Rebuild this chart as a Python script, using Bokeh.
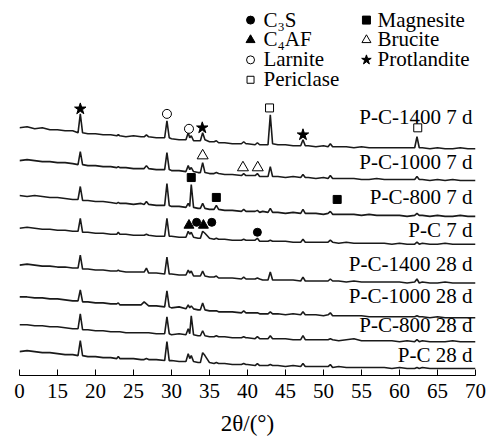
import numpy as np
from bokeh.plotting import figure
from bokeh.models import ColumnDataSource, Range1d, FixedTicker
from bokeh.embed import file_html
from bokeh.resources import INLINE
from bokeh.core.properties import value

# ---------------- data ----------------
two_theta = [10, 11, 12, 13, 14, 15, 16, 17,
             17.7, 18.0, 18.3,
             19, 20, 21, 22,
             22.8, 23.0, 23.2,
             24, 25, 26,
             26.4, 26.7, 27.0,
             28,
             29.1, 29.4, 29.7,
             30, 31,
             31.9, 32.2, 32.4, 32.6, 32.9,
             33.5,
             33.8, 34.1, 34.4,
             35,
             35.6, 35.9, 36.2,
             37, 38,
             39.2, 39.5, 39.8,
             40,
             41.0, 41.3, 41.6,
             42,
             42.7, 43.0, 43.3,
             44, 45, 46,
             47.0, 47.3, 47.6,
             48, 49, 50,
             50.6, 50.9, 51.2,
             52, 53, 54, 55, 56, 57, 58, 59, 60, 61,
             62.0, 62.3, 62.6,
             63, 64, 65, 66, 67, 68, 69, 70]

pc1400_7d = [21, 22, 20, 21, 19, 19, 18, 18,
             16, 35, 16,
             15, 15, 14, 14,
             13, 14, 13,
             12, 13, 12,
             12, 14, 12,
             11,
             11, 28, 11,
             10, 9,
             9, 16, 11, 13, 8,
             8,
             8, 16, 9,
             7,
             7, 8, 6,
             6, 5,
             5, 7, 5,
             5,
             4, 6, 4,
             4,
             4, 34, 5,
             4, 4, 3,
             3, 9, 3,
             3, 2, 3,
             2, 5, 2,
             2, 2, 1, 2, 1, 1, 1, 1, 1, 1,
             1, 12, 1,
             1, 0, 1, 0, 0, 1, 0, 0]

pc1000_7d = [20, 21, 20, 19, 19, 18, 18, 17,
             16, 29, 16,
             15, 15, 14, 14,
             13, 14, 13,
             13, 12, 12,
             12, 15, 12,
             11,
             11, 28, 11,
             10, 10,
             9, 15, 11, 13, 9,
             8,
             8, 18, 8,
             7,
             7, 8, 7,
             6, 6,
             5, 7, 5,
             5,
             5, 7, 4,
             4,
             4, 14, 4,
             4, 3, 4,
             3, 6, 3,
             3, 2, 3,
             2, 5, 2,
             2, 2, 2, 1, 1, 2, 1, 1, 1, 1,
             1, 4, 1,
             1, 0, 1, 0, 1, 0, 0, 0]

pc800_7d = [21, 20, 21, 20, 19, 19, 18, 17,
            17, 30, 16,
            16, 15, 15, 14,
            13, 14, 13,
            13, 12, 13,
            12, 15, 12,
            11,
            11, 33, 11,
            10, 10,
            9, 13, 10, 32, 9,
            8,
            8, 13, 8,
            7,
            7, 11, 7,
            6, 6,
            5, 7, 5,
            5,
            5, 6, 4,
            5,
            4, 8, 4,
            4, 3, 4,
            3, 7, 3,
            3, 3, 2,
            3, 5, 2,
            2, 2, 2, 1, 2, 1, 1, 1, 1, 0,
            1, 3, 1,
            1, 0, 1, 0, 0, 1, 0, 0]

pc_7d = [16, 17, 16, 15, 15, 14, 14, 13,
         13, 26, 12,
         12, 11, 11, 10,
         10, 12, 10,
         10, 9, 9,
         9, 10, 9,
         8,
         8, 26, 8,
         8, 7,
         7, 13, 10, 12, 7,
         6,
         6, 13, 11,
         6,
         5, 6, 5,
         5, 4,
         4, 5, 4,
         4,
         4, 6, 3,
         3,
         3, 4, 3,
         3, 3, 2,
         2, 5, 2,
         2, 2, 2,
         2, 4, 2,
         1, 2, 1, 1, 1, 1, 1, 0, 1, 0,
         0, 2, 0,
         1, 0, 0, 1, 0, 0, 0, 0]

pc1400_28d = [18, 19, 18, 17, 17, 16, 16, 15,
              15, 28, 14,
              14, 13, 13, 12,
              12, 13, 12,
              11, 11, 11,
              11, 15, 10,
              10,
              9, 26, 9,
              9, 8,
              8, 13, 10, 12, 7,
              7,
              7, 12, 7,
              6,
              6, 7, 5,
              5, 5,
              4, 6, 4,
              4,
              4, 5, 4,
              3,
              3, 11, 3,
              3, 3, 3,
              2, 6, 2,
              2, 2, 2,
              2, 4, 2,
              2, 1, 2, 1, 1, 1, 1, 1, 1, 0,
              1, 4, 0,
              1, 0, 0, 1, 0, 0, 0, 0]

pc1000_28d = [21, 21, 20, 20, 19, 19, 18, 17,
              17, 28, 16,
              16, 15, 15, 14,
              14, 15, 13,
              13, 13, 13,
              16, 14, 12,
              12,
              11, 27, 11,
              10, 11,
              9, 13, 10, 12, 9,
              8,
              8, 15, 8,
              7,
              7, 7, 6,
              6, 6,
              5, 7, 5,
              5,
              5, 5, 4,
              4,
              4, 6, 4,
              4, 3, 4,
              3, 6, 3,
              3, 3, 2,
              3, 5, 2,
              2, 2, 2, 2, 1, 1, 1, 1, 1, 1,
              1, 2, 1,
              1, 0, 1, 0, 0, 0, 0, 0]

pc800_28d = [17, 17, 16, 16, 15, 15, 14, 13,
             13, 28, 12,
             12, 11, 11, 10,
             10, 10, 10,
             9, 9, 9,
             9, 9, 9,
             8,
             8, 25, 8,
             7, 8,
             7, 13, 8, 26, 7,
             6,
             6, 11, 6,
             5,
             5, 6, 5,
             5, 4,
             4, 5, 4,
             4,
             3, 5, 3,
             3,
             3, 6, 3,
             3, 3, 2,
             2, 6, 2,
             2, 2, 2,
             2, 3, 2,
             1, 2, 3, 1, 1, 1, 1, 1, 0, 1,
             0, 2, 0,
             1, 0, 0, 0, 1, 0, 0, 0]

pc_28d = [17, 18, 17, 16, 16, 15, 14, 14,
          13, 28, 13,
          12, 12, 11, 11,
          10, 12, 10,
          10, 10, 9,
          9, 10, 9,
          9,
          8, 27, 8,
          8, 7,
          7, 15, 10, 13, 7,
          6,
          6, 16, 13,
          6,
          5, 6, 5,
          5, 4,
          4, 5, 4,
          4,
          3, 5, 3,
          3,
          3, 4, 3,
          3, 2, 3,
          2, 5, 2,
          2, 2, 2,
          2, 4, 1,
          2, 1, 1, 1, 1, 1, 1, 0, 1, 0,
          0, 1, 0,
          1, 0, 0, 0, 0, 0, 0, 0]

series_names = ["P-C-1400 7 d", "P-C-1000 7 d", "P-C-800 7 d", "P-C 7 d",
                "P-C-1400 28 d", "P-C-1000 28 d", "P-C-800 28 d", "P-C 28 d"]
series_values = [pc1400_7d, pc1000_7d, pc800_7d, pc_7d,
                 pc1400_28d, pc1000_28d, pc800_28d, pc_28d]
series_offsets = [228, 196, 160, 132, 93, 58, 34, 7]
label_x = [70, 70, 70, 70, 70, 70, 70, 70]
label_y = [260, 215, 179.5, 146, 112, 80, 51, 21]

tick_values = [10, 15, 20, 25, 30, 35, 40, 45, 50, 55, 60, 65, 70]
tick_labels = ["0", "15", "20", "25", "30", "35", "40", "45", "50", "55", "60", "65", "70"]
x_title = "2θ/(°)"

# phase markers (2theta, stacked height)
c3s_x, c3s_y = [33.3, 35.3, 41.3], [154, 154, 144]
c4af_x, c4af_y = [32.3, 34.2], [151, 151]
larnite_x, larnite_y = [29.4, 32.3], [263, 248]
periclase_x, periclase_y = [42.9, 62.4], [269, 249]
magnesite_x, magnesite_y = [32.6, 35.9, 51.8], [199, 179, 177]
brucite_x, brucite_y = [34.1, 39.4, 41.35], [221, 209, 209]
portlandite_x, portlandite_y = [18.0, 34.05, 47.3], [268, 249, 242]

phase_names = ["C₃S", "C₄AF", "Larnite", "Periclase", "Magnesite", "Brucite", "Protlandite"]
phase_points = [(c3s_x, c3s_y), (c4af_x, c4af_y), (larnite_x, larnite_y),
                (periclase_x, periclase_y), (magnesite_x, magnesite_y),
                (brucite_x, brucite_y), (portlandite_x, portlandite_y)]

for s in series_values:
    assert len(s) == len(two_theta), len(s)

# ---------------- styles / layout ----------------
FONT = "Liberation Serif"
phase_style = [  # marker, filled, size on chart, size in key
    ("circle", True, 8, 8),
    ("triangle", True, 10, 9),
    ("circle", False, 9, 8),
    ("square", False, 8, 7),
    ("square", True, 8, 8),
    ("triangle", False, 11, 9),
    ("star", True, 12, 10),
]
key_col = [0, 0, 0, 0, 1, 1, 1]
key_row = [0, 1, 2, 3, 0, 1, 2]
key_marker_x = [40.4, 55.65]   # x position of the two key columns (axis units)
key_text_x = [42.1, 57.1]
key_top = 357.3               # first key row (y units = px)
key_row_step = 20
key_text_shift = 0.5

p = figure(width=486, height=438, x_range=Range1d(10, 70), y_range=Range1d(0, 377),
           output_backend="svg", toolbar_location=None, y_axis_location=None,
           min_border_left=19, min_border_right=11, min_border_top=0, min_border_bottom=61)
p.grid.visible = False
p.outline_line_color = None
p.background_fill_color = "white"

# traces
for vals, off in zip(series_values, series_offsets):
    y = np.array(vals, dtype=float) + off
    p.line(two_theta, y, line_color="#1a1a1a", line_width=1.6)

# trace labels
lab_src = ColumnDataSource(dict(x=label_x, y=label_y, t=series_names))
p.text(x="x", y="y", text="t", source=lab_src, x_offset=-3,
       text_align="right", text_baseline="alphabetic",
       text_font=value(FONT), text_font_size="21px", text_color="black")

# phase markers on the patterns + key
key_tx, key_ty, key_txt = [], [], []
for name, (px_, py_), (mk, filled, sz, ksz), col, row in zip(
        phase_names, phase_points, phase_style, key_col, key_row):
    fill = "black" if filled else "white"
    p.scatter(px_, py_, marker=mk, size=sz, fill_color=fill, line_color="black", line_width=1)
    ky = key_top - row * key_row_step
    p.scatter([key_marker_x[col]], [ky], marker=mk, size=ksz,
              fill_color=fill, line_color="black", line_width=1)
    key_tx.append(key_text_x[col])
    key_ty.append(ky + key_text_shift)
    key_txt.append(name)

p.text(x=key_tx, y=key_ty, text=key_txt, text_align="left", text_baseline="alphabetic",
       text_font=value(FONT), text_font_size="21px", text_color="black")

# x axis
ax = p.xaxis[0]
ax.ticker = FixedTicker(ticks=tick_values)
ax.major_label_overrides = {v: t for v, t in zip(tick_values, tick_labels)}
ax.minor_tick_line_color = None
ax.major_tick_in = 6
ax.major_tick_out = 0
ax.axis_line_color = "black"
ax.major_tick_line_color = "black"
ax.major_label_standoff = 8
ax.major_label_text_font = FONT
ax.major_label_text_font_size = "21px"
ax.major_label_text_color = "black"
ax.axis_label = x_title
ax.axis_label_standoff = 10
ax.axis_label_text_font = FONT
ax.axis_label_text_font_size = "23px"
ax.axis_label_text_font_style = "normal"
ax.axis_label_text_color = "black"

open("out.html", "w").write(file_html(p, INLINE))
